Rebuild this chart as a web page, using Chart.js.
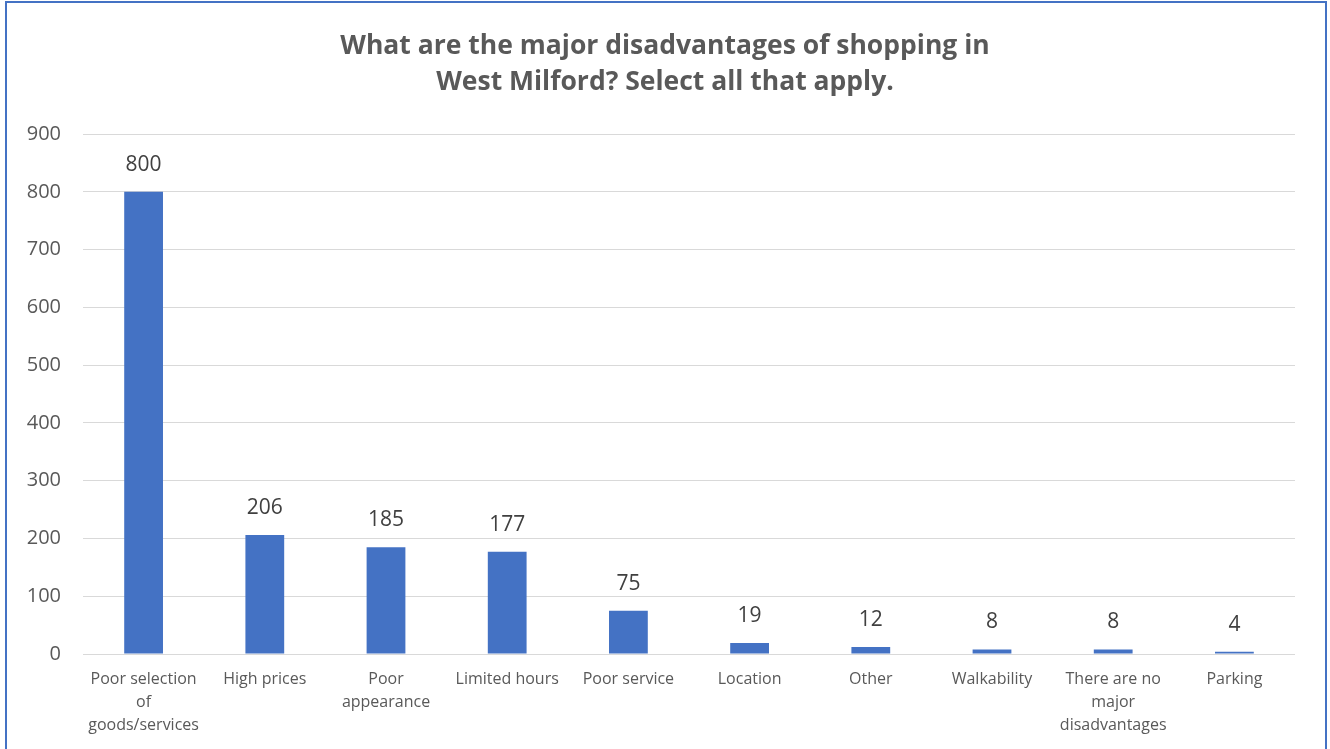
<!DOCTYPE html>
<html>
<head>
<meta charset="utf-8">
<script src="https://cdn.jsdelivr.net/npm/chart.js@4"></script>
<style>
  body { margin: 0; background: #fff; }
  #wrap { position: absolute; left: 0; top: 0; width: 1330px; height: 749px; }
  #frame { position: absolute; left: 5px; top: 1px; width: 1318px; height: 760px; border: 2px solid #4472c4; }
</style>
</head>
<body>
<div id="frame"></div>
<div id="wrap"><canvas id="disadv"></canvas></div>
<script>
var categories = [
  ['Poor selection', 'of', 'goods/services'],
  'High prices',
  ['Poor', 'appearance'],
  'Limited hours',
  'Poor service',
  'Location',
  'Other',
  'Walkability',
  ['There are no', 'major', 'disadvantages'],
  'Parking'
];
var responses = [800, 206, 185, 177, 75, 19, 12, 8, 8, 4];
var titleLines = ['What are the major disadvantages of shopping in', 'West Milford? Select all that apply.'];

var fontName = "'Open Sans', 'Liberation Sans', sans-serif";

// writes the value over each bar
var valueLabels = {
  id: 'valueLabels',
  afterDatasetsDraw: function(chart) {
    var ctx = chart.ctx;
    var meta = chart.getDatasetMeta(0);
    ctx.save();
    ctx.font = '21px ' + fontName;
    ctx.fillStyle = '#404040';
    ctx.textAlign = 'center';
    ctx.textBaseline = 'middle';
    meta.data.forEach(function(bar, i) {
      ctx.fillText(chart.data.datasets[0].data[i], bar.x, bar.y - 27);
    });
    ctx.restore();
  }
};

var disadvChart = new Chart(document.getElementById('disadv'), {
  type: 'bar',
  data: {
    labels: categories,
    datasets: [{
      data: responses,
      backgroundColor: '#4472c4',
      borderWidth: 0,
      barPercentage: 0.32,
      categoryPercentage: 1
    }]
  },
  options: {
    responsive: true,
    maintainAspectRatio: false,
    animation: false,
    layout: { padding: 0 },
    plugins: {
      legend: { display: false },
      tooltip: { enabled: false },
      title: {
        display: true,
        text: titleLines,
        color: '#595959',
        font: { family: fontName, size: 26.5, weight: 'bold', lineHeight: 1.36 },
        padding: { top: 28, bottom: 34 }
      }
    },
    scales: {
      x: {
        grid: { display: false },
        border: { display: false },
        ticks: {
          color: '#595959',
          font: { family: fontName, size: 16, lineHeight: 1.44 },
          maxRotation: 0,
          autoSkip: false,
          padding: 6
        },
        afterFit: function(scale) { scale.height = 95; }
      },
      y: {
        min: 0,
        max: 900,
        grid: { color: '#d9d9d9', lineWidth: 1, drawTicks: false },
        border: { display: false },
        ticks: {
          stepSize: 100,
          color: '#595959',
          font: { family: fontName, size: 20 },
          padding: 22
        },
        afterFit: function(scale) { scale.width = 83; }
      },
      // empty right margin so the title centres on the whole canvas
      yRight: {
        position: 'right',
        display: true,
        grid: { display: false },
        border: { display: false },
        ticks: { display: false },
        afterFit: function(scale) { scale.width = 35; }
      }
    }
  },
  plugins: [valueLabels]
});
</script>
</body>
</html>
